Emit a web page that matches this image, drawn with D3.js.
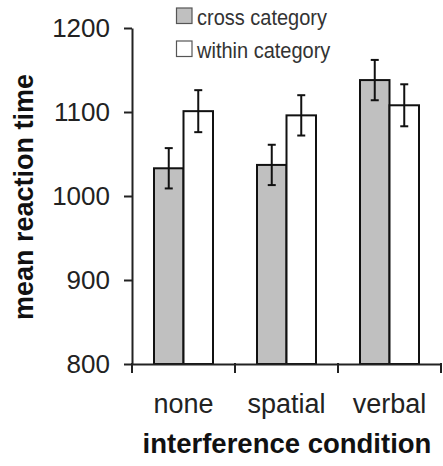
<!DOCTYPE html>
<html><head><meta charset="utf-8">
<script src="https://cdn.jsdelivr.net/npm/d3@7"></script>
<style>body{margin:0;background:#fff}svg{display:block;font-family:"Liberation Sans",Arial,sans-serif}</style>
</head><body><svg id="c" width="443" height="466"></svg>
<script>
const categories = ["none", "spatial", "verbal"];
const seriesNames = ["cross category", "within category"];
const crossValues = [1033, 1037, 1138];
const withinValues = [1101, 1096, 1108];
const crossErrors = [24, 24, 24];
const withinErrors = [25, 24, 25];
const yTicks = [800, 900, 1000, 1100, 1200];
const fills = ["#c0c0c0", "#ffffff"];

const svg = d3.select("#c");
const x = d3.scaleBand().domain(categories).range([132, 441]).paddingInner(0).paddingOuter(0);
const x1 = d3.scaleBand().domain(seriesNames).range([22, 81]);
const y = d3.scaleLinear().domain([800, 1200]).range([364, 28]);

const data = categories.map((c, i) => ({
  cat: c,
  vals: [
    {s: seriesNames[0], v: crossValues[i], e: crossErrors[i], f: fills[0]},
    {s: seriesNames[1], v: withinValues[i], e: withinErrors[i], f: fills[1]}
  ]
}));

const g = svg.selectAll("g.grp").data(data).join("g").attr("class", "grp")
  .attr("transform", d => `translate(${x(d.cat)},0)`);
g.selectAll("rect").data(d => d.vals).join("rect")
  .attr("x", d => x1(d.s)).attr("width", x1.bandwidth())
  .attr("y", d => y(d.v)).attr("height", d => y(800) - y(d.v))
  .attr("fill", d => d.f).attr("stroke", "#111").attr("stroke-width", 2);
const eb = g.selectAll("g.eb").data(d => d.vals).join("g").attr("class", "eb")
  .attr("stroke", "#111").attr("stroke-width", 2);
eb.append("line").attr("x1", d => x1(d.s) + x1.bandwidth()/2).attr("x2", d => x1(d.s) + x1.bandwidth()/2)
  .attr("y1", d => y(d.v + d.e)).attr("y2", d => y(d.v - d.e));
eb.append("line").attr("x1", d => x1(d.s) + x1.bandwidth()/2 - 4).attr("x2", d => x1(d.s) + x1.bandwidth()/2 + 4)
  .attr("y1", d => y(d.v + d.e)).attr("y2", d => y(d.v + d.e));
eb.append("line").attr("x1", d => x1(d.s) + x1.bandwidth()/2 - 4).attr("x2", d => x1(d.s) + x1.bandwidth()/2 + 4)
  .attr("y1", d => y(d.v - d.e)).attr("y2", d => y(d.v - d.e));

// y axis
const ya = svg.append("g").attr("transform", "translate(132,0)")
  .call(d3.axisLeft(y).tickValues(yTicks).tickSize(8).tickPadding(14).tickSizeOuter(0).tickFormat(d3.format("d")));
ya.select(".domain").attr("stroke", "#222").attr("stroke-width", 2);
ya.selectAll(".tick line").attr("stroke", "#222").attr("stroke-width", 2);
ya.selectAll("text").attr("font-size", 26).attr("fill", "#222").attr("font-family", "Liberation Sans, Arial, sans-serif");

// x axis
const xa = svg.append("g").attr("transform", "translate(0,364)")
  .call(d3.axisBottom(x).tickSize(0).tickPadding(0));
xa.select(".domain").attr("stroke", "#222").attr("stroke-width", 2);
xa.selectAll(".tick text").attr("font-size", 27).attr("fill", "#222").attr("dy", null).attr("y", 49)
  .attr("font-family", "Liberation Sans, Arial, sans-serif");
const edges = x.domain().map(d => x(d)).concat([x.range()[1]]);
svg.append("g").selectAll("line").data(edges).join("line")
  .attr("x1", d => d).attr("x2", d => d).attr("y1", 363).attr("y2", 373)
  .attr("stroke", "#222").attr("stroke-width", 2);

// titles
svg.append("text").attr("x", 287).attr("y", 453).attr("text-anchor", "middle")
  .attr("font-size", 27.5).attr("font-weight", "bold").attr("fill", "#111").text("interference condition");
svg.append("text").attr("transform", "translate(33,197) rotate(-90)").attr("text-anchor", "middle")
  .attr("font-size", 27).attr("font-weight", "bold").attr("fill", "#111").text("mean reaction time");

// legend
const lg = svg.append("g").selectAll("g").data(seriesNames).join("g")
  .attr("transform", (d, i) => `translate(176,${8 + i * 33})`);
lg.append("rect").attr("x", 0.5).attr("width", 15.5).attr("height", 15.5).attr("fill", (d, i) => fills[i])
  .attr("stroke", "#555").attr("stroke-width", 1.2);
lg.append("text").attr("transform", "translate(21,17) scale(1,1.1)").attr("font-size", 20).attr("fill", "#333").text(d => d);
</script></body></html>
